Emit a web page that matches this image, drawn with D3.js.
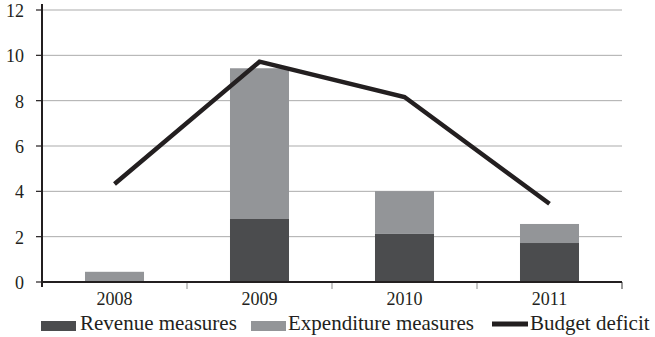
<!DOCTYPE html>
<html>
<head>
<meta charset="utf-8">
<script src="https://cdn.jsdelivr.net/npm/d3@7/dist/d3.min.js"></script>
<style>
  html, body { margin: 0; padding: 0; background: #fff; }
  svg { display: block; }
  text { font-family: "Liberation Serif", "Times New Roman", serif; fill: #231f20; }
</style>
</head>
<body>
<svg id="chart" width="655" height="337"></svg>
<script>
// Fiscal stimulus measures and budget deficit (% of GDP)
const years = ["2008", "2009", "2010", "2011"];
const revenueMeasures = [0, 2.78, 2.12, 1.72];
const expenditureMeasures = [0.45, 6.65, 1.89, 0.84];
const budgetDeficit = [4.32, 9.72, 8.16, 3.45];
const yTicks = [0, 2, 4, 6, 8, 10, 12];
const seriesNames = ["Revenue measures", "Expenditure measures", "Budget deficit"];

const colors = { revenue: "#4b4c4e", expenditure: "#939598", deficit: "#231f20" };

const svg = d3.select("#chart");
const plot = { left: 42, right: 622, top: 10, bottom: 282 };

const y = d3.scaleLinear().domain([0, 12]).range([plot.bottom, plot.top]);
const xAxisBand = d3.scaleBand().domain(years).range([plot.left, plot.right]).padding(0);
const xBar = d3.scaleBand().domain(years).range([plot.left, plot.right])
  .paddingInner(0.593).paddingOuter(0.593 / 2);
const cx = d => xAxisBand(d) + xAxisBand.bandwidth() / 2;

// horizontal gridlines
svg.append("g")
  .selectAll("line")
  .data(yTicks.filter(t => t > 0))
  .join("line")
  .attr("x1", plot.left).attr("x2", plot.right)
  .attr("y1", d => y(d)).attr("y2", d => y(d))
  .attr("stroke", "#ababab").attr("stroke-width", 1);

// stacked bars
const table = years.map((yr, i) => ({ year: yr, revenue: revenueMeasures[i], expenditure: expenditureMeasures[i] }));
const stacked = d3.stack().keys(["revenue", "expenditure"])(table);
svg.append("g")
  .selectAll("g")
  .data(stacked)
  .join("g")
  .attr("fill", s => colors[s.key])
  .selectAll("rect")
  .data(s => s)
  .join("rect")
  .attr("x", d => xBar(d.data.year))
  .attr("width", xBar.bandwidth())
  .attr("y", d => y(d[1]))
  .attr("height", d => y(d[0]) - y(d[1]));

// x-axis tick marks at category boundaries
const boundaries = years.map(yr => xAxisBand(yr) + xAxisBand.bandwidth()).slice(0, -1);
svg.append("g")
  .selectAll("line")
  .data(boundaries)
  .join("line")
  .attr("x1", d => d).attr("x2", d => d)
  .attr("y1", plot.bottom).attr("y2", plot.bottom + 7)
  .attr("stroke", "#a0a0a0").attr("stroke-width", 1.2);
svg.append("line")
  .attr("x1", plot.right).attr("x2", plot.right)
  .attr("y1", plot.bottom).attr("y2", plot.bottom + 7)
  .attr("stroke", "#555").attr("stroke-width", 1.2);

// axes lines
svg.append("line")
  .attr("x1", plot.left).attr("x2", plot.right)
  .attr("y1", plot.bottom).attr("y2", plot.bottom)
  .attr("stroke", "#231f20").attr("stroke-width", 2);
svg.append("line")
  .attr("x1", plot.left).attr("x2", plot.left)
  .attr("y1", plot.top - 6).attr("y2", plot.bottom + 5)
  .attr("stroke", "#231f20").attr("stroke-width", 2);

// y-axis ticks and labels
const yAxis = svg.append("g");
yAxis.selectAll("line")
  .data(yTicks)
  .join("line")
  .attr("x1", plot.left - 6).attr("x2", plot.left)
  .attr("y1", d => y(d)).attr("y2", d => y(d))
  .attr("stroke", "#231f20").attr("stroke-width", 1.2);
yAxis.selectAll("text")
  .data(yTicks)
  .join("text")
  .attr("x", 24)
  .attr("y", d => y(d) + 7)
  .attr("text-anchor", "end")
  .attr("font-size", 18)
  .text(d => d);

// x-axis labels
svg.append("g")
  .selectAll("text")
  .data(years)
  .join("text")
  .attr("x", d => cx(d))
  .attr("y", 305)
  .attr("text-anchor", "middle")
  .attr("font-size", 18)
  .text(d => d);

// budget deficit line
const line = d3.line().x((d, i) => cx(years[i])).y(d => y(d));
svg.append("path")
  .datum(budgetDeficit)
  .attr("d", line)
  .attr("fill", "none")
  .attr("stroke", colors.deficit)
  .attr("stroke-width", 4.5)
  .attr("stroke-linejoin", "miter");

// legend
const legend = svg.append("g");
const legendItems = [
  { name: seriesNames[0], type: "rect", color: colors.revenue, x: 41, textX: 80 },
  { name: seriesNames[1], type: "rect", color: colors.expenditure, x: 251, textX: 288 },
  { name: seriesNames[2], type: "line", color: colors.deficit, x: 492, textX: 530 }
];
legendItems.forEach(it => {
  if (it.type === "rect") {
    legend.append("rect").attr("x", it.x).attr("y", 321).attr("width", 35).attr("height", 10).attr("fill", it.color);
  } else {
    legend.append("line").attr("x1", it.x).attr("x2", it.x + 36).attr("y1", 324).attr("y2", 324)
      .attr("stroke", it.color).attr("stroke-width", 5);
  }
  legend.append("text").attr("x", it.textX).attr("y", 330).attr("font-size", 21).text(it.name);
});
</script>
</body>
</html>
